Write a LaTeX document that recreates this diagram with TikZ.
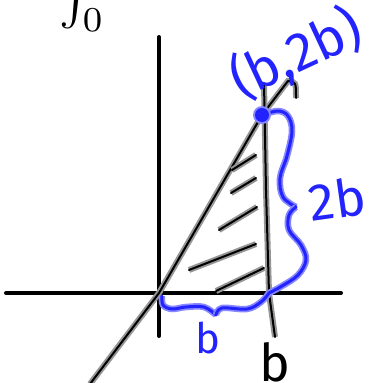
\documentclass[tikz,border=0pt]{standalone}
\usepackage{amsmath}
\usepackage{fontspec}
\setmainfont{Fira Sans}
\usetikzlibrary{calc}
\definecolor{inkblue}{RGB}{35,35,255}
\definecolor{haloblue}{RGB}{135,135,255}
\definecolor{halogray}{RGB}{150,150,150}

\begin{document}
\begin{tikzpicture}[x=1pt, y=-1pt,
        axisline/.style={line width=4pt, line cap=round},
        pencil/.style={line width=2pt, line cap=round, line join=round,
            preaction={draw, halogray, line width=6pt}},
        bluepen/.style={draw=inkblue, line width=3pt, line cap=round, line join=round,
            preaction={draw, haloblue, line width=6.5pt}},
        bluetext/.style={text=inkblue, inner sep=0pt}
    ]
        \useasboundingbox (0,0) rectangle (368,383);

        % Points
        \coordinate (O) at (159,293);
        \coordinate (P) at (262,115);
        \coordinate (Bx) at (269,293);
        \coordinate (xl) at (6,293);
        \coordinate (xr) at (341,293);
        \coordinate (yt) at (159,37);
        \coordinate (yb) at (159,336);
        \coordinate (dl) at (90,384);
        \coordinate (dt) at (288,81);
        \coordinate (vt) at (264,83);
        \coordinate (vb) at (275,337);

        % Axes
        \draw[axisline] (xl) -- (xr);
        \draw[axisline] (yb) -- (yt);

        % Lines y = 2x and x = b
        \draw[pencil] (dl) -- (O) -- (P) -- (dt) .. controls (296,82) .. (296,98);
        \draw[pencil] (vt) -- (266,190) -- (Bx) -- (vb);

        % Shading
        \foreach \xa/\ya/\xb/\yb in {232/170/256/155, 231/193/256/178, 219/230/257/207,
            189/270/256/244, 216/291/264/268}
            \draw[pencil] (\xa,\ya) -- (\xb,\yb);

        % Braces
        \draw[bluepen] plot[smooth, tension=0.6] coordinates {(P) (278,111) (288,116) (292,131)
            (287,156) (280,178) (283,197) (296,207)};
        \draw[bluepen] plot[smooth, tension=0.6] coordinates {(296,207) (289,215) (289,230)
            (301,245) (306,260) (298,275) (282,286) (Bx)};
        \draw[bluepen] plot[smooth, tension=0.6] coordinates {(162,296) (163,305) (172,309)
            (186,307) (204,307) (216,315)};
        \draw[bluepen] plot[smooth, tension=0.6] coordinates {(216,315) (222,308) (247,309)
            (261,302) (Bx)};
        \fill[haloblue] (P) circle (9);
        \fill[inkblue] (P) circle (7);

        % Labels
        \node[bluetext, rotate=25, font=\fontsize{54}{54}\selectfont] (pt) at (296,54) {(b,2b)};
        \node[bluetext, rotate=8, font=\fontsize{52}{52}\selectfont] (hgt) at (337,199) {2b};
        \node[bluetext, font=\fontsize{42}{42}\selectfont] (base) at (208,338) {b};
        \node[inner sep=0pt, font=\fontsize{52}{52}\selectfont] (bval) at (275,362) {b};
        \node[inner sep=0pt, anchor=base west, scale=5] (intg) at (58,14) {$\int_0$};
\end{tikzpicture}
\end{document}
